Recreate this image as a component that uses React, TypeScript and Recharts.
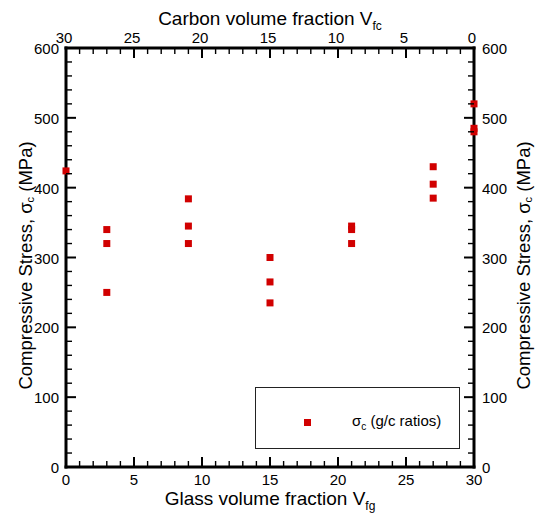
import React from 'react';
import { ScatterChart, Scatter, XAxis, YAxis, Legend } from 'recharts';

// Glass volume fraction (%) of each specimen and its compressive stress (MPa)
const glassFraction = [0, 3, 3, 3, 9, 9, 9, 15, 15, 15, 21, 21, 21, 27, 27, 27, 30, 30, 30];
const compressiveStress = [424, 340, 320, 250, 384, 345, 320, 300, 265, 235, 345, 340, 320, 430, 405, 385, 520, 485, 480];

const xTicks = [0, 1, 2, 3, 4, 5, 6, 7, 8, 9, 10, 11, 12, 13, 14, 15, 16, 17, 18, 19, 20, 21, 22, 23, 24, 25, 26, 27, 28, 29, 30];
const yTicks = [0, 20, 40, 60, 80, 100, 120, 140, 160, 180, 200, 220, 240, 260, 280, 300, 320, 340, 360, 380, 400, 420, 440, 460, 480, 500, 520, 540, 560, 580, 600];

const data = glassFraction.map((x, i) => ({ x, y: compressiveStress[i] }));
// same specimens expressed against the carbon fraction (top axis), carbon = 30 - glass
const carbonData = glassFraction.map((x, i) => ({ x: 30 - x, y: compressiveStress[i] }));

const FONT = "'Liberation Sans', Arial, Helvetica, sans-serif";
const RED = '#d10000';
const MAJOR = 10;
const MINOR = 6;

const BottomTick = (p: any) => {
  const { x, y, payload } = p;
  const v = payload.value;
  const major = v % 5 === 0;
  return (
    <g>
      <line x1={x} x2={x} y1={y} y2={y - (major ? MAJOR : MINOR)} stroke="#000" strokeWidth={major ? 2 : 1.4} />
      {major && (
        <text x={x} y={y + 18} textAnchor="middle" fontSize={15} fill="#000" fontFamily={FONT}>
          {v}
        </text>
      )}
    </g>
  );
};

const TopTick = (p: any) => {
  const { x, y, payload } = p;
  const v = payload.value;
  const major = v % 5 === 0;
  return (
    <g>
      <line x1={x} x2={x} y1={y} y2={y + (major ? MAJOR : MINOR)} stroke="#000" strokeWidth={major ? 2 : 1.4} />
      {major && (
        <text x={x - 2} y={y - 5} textAnchor="middle" fontSize={15} fill="#000" fontFamily={FONT}>
          {v}
        </text>
      )}
    </g>
  );
};

const LeftTick = (p: any) => {
  const { x, y, payload } = p;
  const v = payload.value;
  const major = v % 100 === 0;
  return (
    <g>
      <line x1={x} x2={x + (major ? MAJOR : MINOR)} y1={y} y2={y} stroke="#000" strokeWidth={major ? 2 : 1.4} />
      {major && (
        <text x={x - 7} y={y + 6} textAnchor="end" fontSize={15} fill="#000" fontFamily={FONT}>
          {v}
        </text>
      )}
    </g>
  );
};

const RightTick = (p: any) => {
  const { x, y, payload } = p;
  const v = payload.value;
  const major = v % 100 === 0;
  return (
    <g>
      <line x1={x} x2={x - (major ? MAJOR : MINOR)} y1={y} y2={y} stroke="#000" strokeWidth={major ? 2 : 1.4} />
      {major && (
        <text x={x + 8} y={y + 6} textAnchor="start" fontSize={15} fill="#000" fontFamily={FONT}>
          {v}
        </text>
      )}
    </g>
  );
};

const BottomTitle = (p: any) => {
  const vb = p.viewBox;
  return (
    <text x={vb.x + vb.width / 2} y={505} textAnchor="middle" fontSize={19} fill="#000" fontFamily={FONT}>
      Glass volume fraction V
      <tspan fontSize={12} dy={5}>fg</tspan>
    </text>
  );
};

const TopTitle = (p: any) => {
  const vb = p.viewBox;
  return (
    <text x={vb.x + vb.width / 2} y={25} textAnchor="middle" fontSize={19} fill="#000" fontFamily={FONT}>
      Carbon volume fraction V
      <tspan fontSize={12} dy={5}>fc</tspan>
    </text>
  );
};

const makeYTitle = (bx: number) => (p: any) => {
  const vb = p.viewBox;
  const cy = vb.y + vb.height / 2 + 8;
  return (
    <text
      x={bx}
      y={cy}
      transform={`rotate(-90, ${bx}, ${cy})`}
      textAnchor="middle"
      fontSize={18.5}
      fill="#000"
      fontFamily={FONT}
    >
      Compressive Stress, σ
      <tspan fontSize={11} dy={2}>c</tspan>
      <tspan dy={-2}>{'\u00a0(MPa)'}</tspan>
    </text>
  );
};

const Square = (p: any) => {
  const { cx, cy } = p;
  return <rect x={cx - 3.5} y={cy - 3.5} width={7} height={7} fill={RED} />;
};

const Nothing = () => <g />;

const LegendBox = () => (
  <div
    style={{
      boxSizing: 'border-box',
      width: 205,
      height: 62,
      border: '1px solid #222',
      background: '#fff',
      position: 'relative',
      fontFamily: FONT,
    }}
  >
    <div style={{ position: 'absolute', left: 48, top: 31, width: 7, height: 7, background: RED }} />
    <div style={{ position: 'absolute', left: 96, top: 24, fontSize: 15, lineHeight: '18px', color: '#000', whiteSpace: 'nowrap' }}>
      σ<sub style={{ fontSize: 10, verticalAlign: '-4px' }}>c</sub> (g/c ratios)
    </div>
  </div>
);

const axisLineStyle = { stroke: '#000', strokeWidth: 3, strokeLinecap: 'square' as const };

export default function App() {
  return (
    <div style={{ position: 'absolute', left: 0, top: 0 }}>
      <ScatterChart
        width={537}
        height={515}
        margin={{ top: 47, right: 62, bottom: 47, left: 65 }}
        style={{ fontFamily: FONT }}
      >
        <XAxis
          xAxisId="bottom"
          type="number"
          dataKey="x"
          domain={[0, 30]}
          ticks={xTicks}
          interval={0}
          height={1}
          tickSize={0}
          tickMargin={0}
          tickLine={false}
          tick={BottomTick}
          axisLine={axisLineStyle}
          label={{ content: BottomTitle }}
        />
        <XAxis
          xAxisId="top"
          orientation="top"
          type="number"
          dataKey="x"
          domain={[0, 30]}
          reversed
          ticks={xTicks}
          interval={0}
          height={1}
          tickSize={0}
          tickMargin={0}
          tickLine={false}
          tick={TopTick}
          axisLine={axisLineStyle}
          label={{ content: TopTitle }}
        />
        <YAxis
          yAxisId="left"
          type="number"
          dataKey="y"
          domain={[0, 600]}
          ticks={yTicks}
          interval={0}
          width={1}
          tickSize={0}
          tickMargin={0}
          tickLine={false}
          tick={LeftTick}
          axisLine={axisLineStyle}
          label={{ content: makeYTitle(32) }}
        />
        <YAxis
          yAxisId="right"
          orientation="right"
          type="number"
          dataKey="y"
          domain={[0, 600]}
          ticks={yTicks}
          interval={0}
          width={1}
          tickSize={0}
          tickMargin={0}
          tickLine={false}
          tick={RightTick}
          axisLine={axisLineStyle}
          label={{ content: makeYTitle(530) }}
        />
        <Scatter
          name="carbon"
          data={carbonData}
          xAxisId="top"
          yAxisId="right"
          shape={Nothing}
          legendType="none"
          isAnimationActive={false}
        />
        <Scatter
          name="σc (g/c ratios)"
          data={data}
          xAxisId="bottom"
          yAxisId="left"
          fill={RED}
          shape={Square}
          isAnimationActive={false}
        />
        <Legend
          layout="vertical"
          align="center"
          verticalAlign="middle"
          content={LegendBox}
          wrapperStyle={{ left: 255, top: 387, width: 205, height: 62 }}
        />
      </ScatterChart>
    </div>
  );
}
